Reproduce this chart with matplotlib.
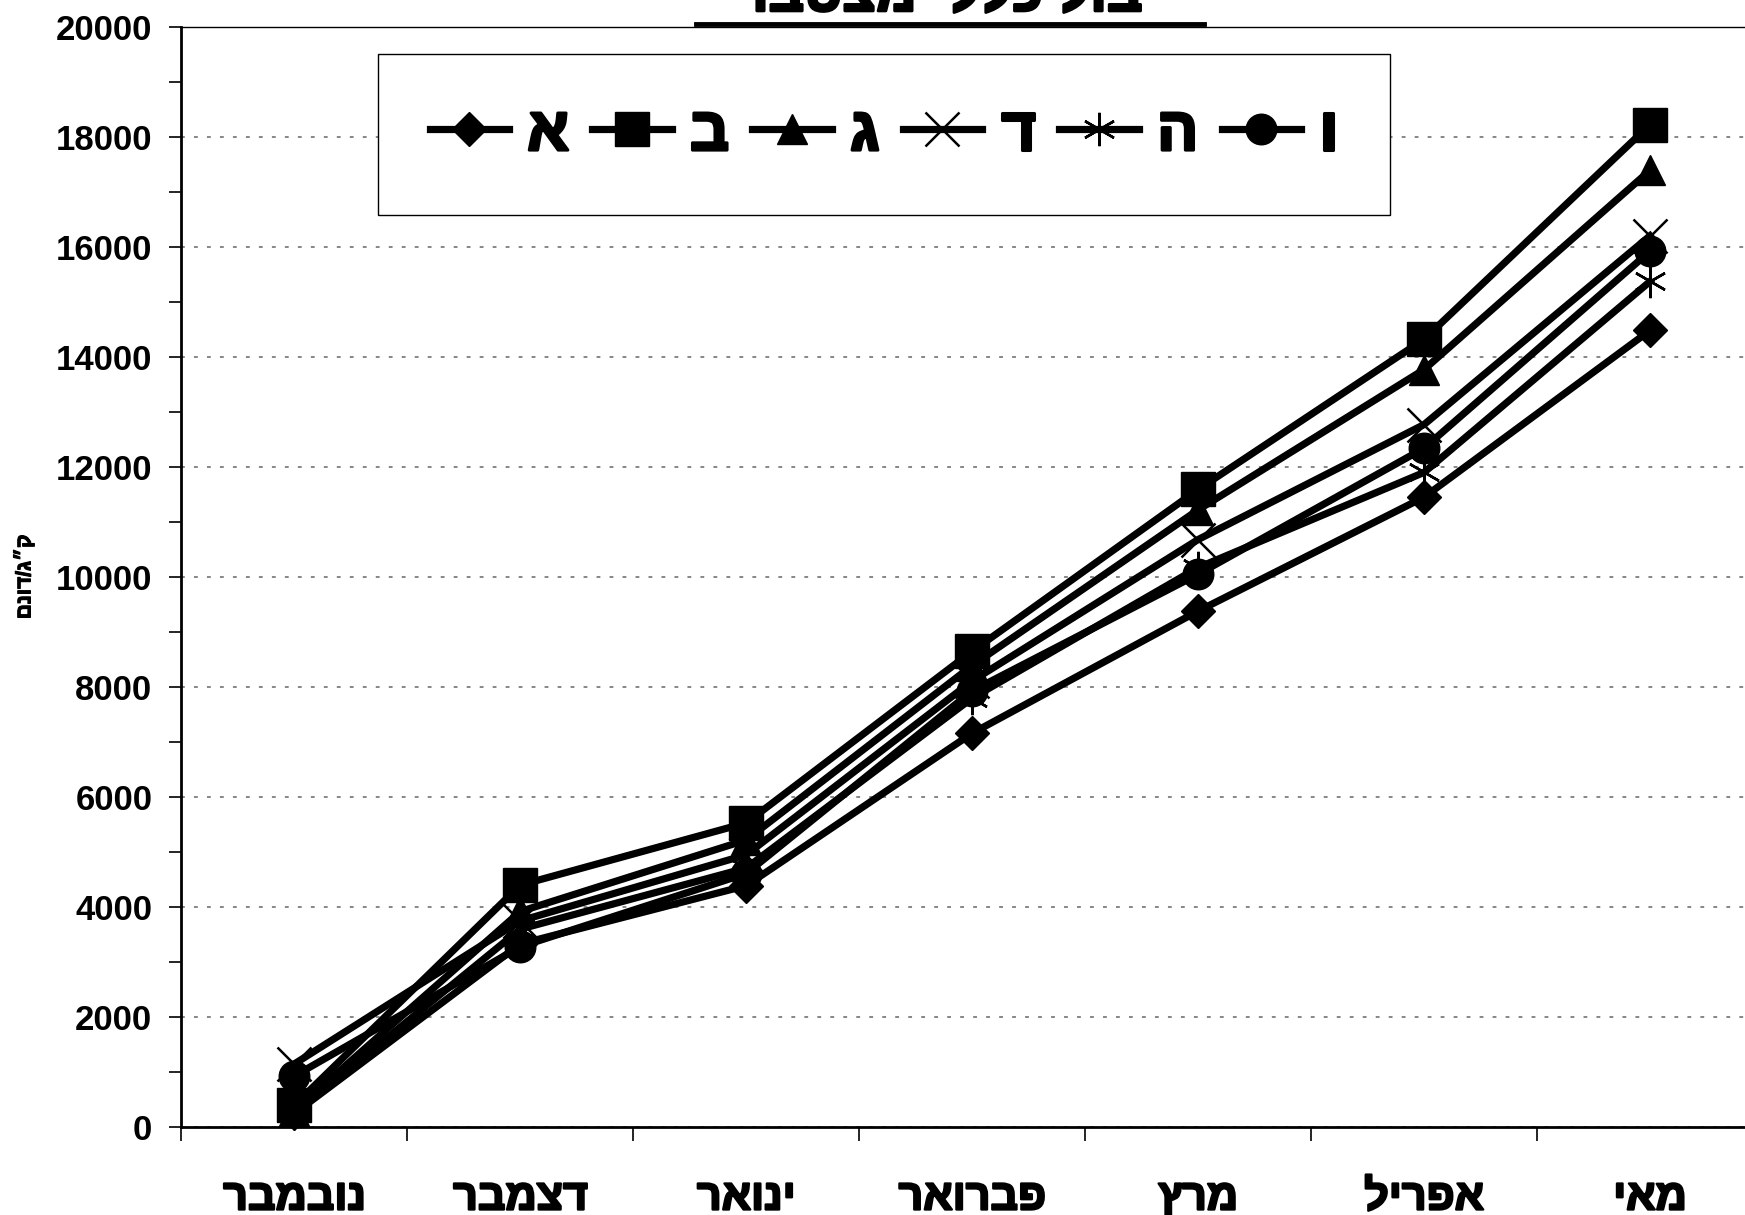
import matplotlib
matplotlib.use("Agg")
import matplotlib.pyplot as plt
import matplotlib.patheffects as pe
from matplotlib.lines import Line2D

# data
months = ["נובמבר", "דצמבר", "ינואר", "פברואר", "מרץ", "אפריל", "מאי"]
series_names = ["א", "ב", "ג", "ד", "ה", "ו"]
s_a = [250, 3330, 4390, 7160, 9380, 11450, 14480]
s_b = [400, 4400, 5530, 8650, 11590, 14320, 18220]
s_g = [300, 3920, 5220, 8390, 11220, 13770, 17390]
s_d = [1150, 3750, 4950, 8110, 10680, 12770, 16200]
s_h = [250, 3600, 4710, 7800, 10170, 11900, 15370]
s_v = [930, 3280, 4610, 7930, 10050, 12340, 15920]
yticks = list(range(0, 20001, 2000))
title = "יבול כללי מצטבר"
ylabel = "ק״ג/דונם"


def vis(s):
    # matplotlib has no bidi support, so hebrew is given in visual order
    return s[::-1]


# the hebrew glyphs come out light, so thicken them a bit
heavy = [pe.withStroke(linewidth=1.6, foreground="black")]

plt.rcParams["font.family"] = ["Liberation Sans", "DejaVu Sans"]
plt.rcParams["font.weight"] = "bold"

fig = plt.figure(figsize=(17.45, 12.15), dpi=100)
ax = fig.add_axes([0.104, 0.0723, 0.9063, 0.9057])

x = list(range(len(months)))
styles = [
    dict(marker="D", markersize=17),
    dict(marker="s", markersize=24),
    dict(marker="^", markersize=22),
    dict(marker="x", markersize=24, markeredgewidth=1.8),
    dict(marker=(6, 2, 0), markersize=24, markeredgewidth=1.8),
    dict(marker="o", markersize=22),
]
all_series = [s_a, s_b, s_g, s_d, s_h, s_v]
for name, vals, st in zip(series_names, all_series, styles):
    ax.plot(x, vals, color="black", lw=5.2, label=name, clip_on=False,
            markerfacecolor="black", markeredgecolor="black", zorder=3, **st)

ax.set_xlim(-0.5, len(months) - 0.5)
ax.set_ylim(0, 20000)

ax.set_xticks([i - 0.5 for i in range(len(months) + 1)])
ax.set_xticklabels([])
ax.set_xticks(x, minor=True)
ax.set_xticklabels([vis(m) for m in months], minor=True, fontsize=31, fontweight="bold")
for t in ax.get_xticklabels(minor=True):
    t.set_path_effects(heavy)
ax.tick_params(axis="x", which="major", direction="out", length=10, width=1.2)
ax.tick_params(axis="x", which="minor", length=0, pad=37)

ax.set_yticks(yticks)
ax.set_yticklabels([str(v) for v in yticks], fontsize=25, fontweight="bold")
ax.set_yticks(list(range(1000, 20000, 2000)), minor=True)
ax.tick_params(axis="y", which="both", direction="out", length=9, width=1.2, pad=12)

ax.grid(axis="y", which="major", color="#666666", lw=1.1, linestyle=(0, (2.5, 6)))
ax.set_axisbelow(True)

for side in ["left", "bottom"]:
    ax.spines[side].set_linewidth(2)
ax.spines["top"].set_linewidth(1)
ax.spines["right"].set_visible(False)

ax.set_ylabel(vis(ylabel), fontsize=15, fontweight="bold")
ax.yaxis.set_label_coords(-0.093, 0.5)
ax.yaxis.label.set_path_effects([pe.withStroke(linewidth=0.8, foreground="black")])

leg = ax.legend(loc="center", bbox_to_anchor=(0.124, 0.830, 0.640, 0.144),
                mode="expand", ncol=6, fontsize=44, handlelength=1.3,
                handletextpad=0.3, columnspacing=0.5, borderpad=0.85,
                borderaxespad=0, fancybox=False, framealpha=1, edgecolor="black")
leg.get_frame().set_linewidth(1)
for t in leg.get_texts():
    t.set_path_effects([pe.withStroke(linewidth=2.2, foreground="black")])

# title sits mostly above the top edge, only its bottom part shows
tt = fig.text(0.543, 0.991, vis(title), ha="center", va="baseline",
              fontsize=40, fontweight="bold")
tt.set_path_effects([pe.withStroke(linewidth=2, foreground="black")])
fig.add_artist(Line2D([0.399, 0.690], [0.980, 0.980], transform=fig.transFigure,
                      color="black", lw=3.5))

fig.savefig("out.png", dpi=100)
